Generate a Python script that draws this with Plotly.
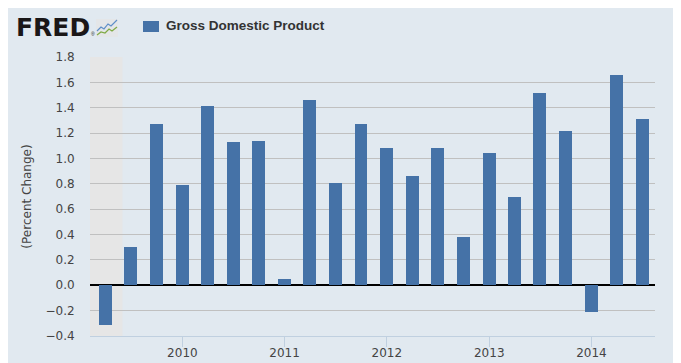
import plotly.graph_objects as go

# ---- data ----
quarters = ["2009-04-01", "2009-07-01", "2009-10-01",
            "2010-01-01", "2010-04-01", "2010-07-01", "2010-10-01",
            "2011-01-01", "2011-04-01", "2011-07-01", "2011-10-01",
            "2012-01-01", "2012-04-01", "2012-07-01", "2012-10-01",
            "2013-01-01", "2013-04-01", "2013-07-01", "2013-10-01",
            "2014-01-01", "2014-04-01", "2014-07-01"]
gdp_pct_change = [-0.31, 0.30, 1.27,
                  0.79, 1.41, 1.13, 1.14,
                  0.05, 1.46, 0.81, 1.27,
                  1.08, 0.86, 1.08, 0.38,
                  1.04, 0.70, 1.52, 1.22,
                  -0.21, 1.66, 1.31]
year_ticks = ["2010-01-01", "2011-01-01", "2012-01-01", "2013-01-01", "2014-01-01"]
year_labels = ["2010", "2011", "2012", "2013", "2014"]
recession = ["2009-02-05", "2009-06-01"]
series_name = "Gross Domestic Product"

# ---- layout geometry (reference pixels; page body adds an 8px margin) ----
OFF = 8
W, H = 681 - OFF, 363 - OFF
L, R, T, B = 90 - OFF, 655 - OFF, 57 - OFF, 336 - OFF


def px(x):
    return (x - OFF - L) / (R - L)


def py(y):
    return (B - (y - OFF)) / (B - T)


BAR = "#4572A7"
BG = "#E1E9F0"

fig = go.Figure()
fig.add_trace(go.Bar(
    x=quarters, y=gdp_pct_change, name=series_name,
    marker=dict(color=BAR, line=dict(width=0)),
    width=46 * 86400000, showlegend=False,
))

shapes = [
    # outer blue-gray panel
    dict(type="rect", xref="paper", yref="paper", x0=px(OFF), x1=px(675), y0=py(OFF), y1=py(363),
         fillcolor=BG, line=dict(width=0), layer="below"),
    # recession shading
    dict(type="rect", xref="x", yref="paper", x0=recession[0], x1=recession[1], y0=0, y1=1,
         fillcolor="#E6E6E6", line=dict(width=0), layer="below"),
    # legend swatch
    dict(type="rect", xref="paper", yref="paper", x0=px(143), x1=px(159), y0=py(21), y1=py(32),
         fillcolor=BAR, line=dict(width=0)),
    # FRED icon box
    dict(type="rect", xref="paper", yref="paper", x0=px(96), x1=px(118), y0=py(19), y1=py(37),
         fillcolor="#E4E6E8", line=dict(width=0)),
]


def path(pts):
    return "M" + " L".join(f"{px(a):.5f},{py(b):.5f}" for a, b in pts)


shapes.append(dict(type="path", xref="paper", yref="paper",
                   path=path([(97, 31), (101, 27), (104, 29), (108, 24), (111, 26), (117, 20)]),
                   line=dict(color="#5F8FC8", width=1.2)))
shapes.append(dict(type="path", xref="paper", yref="paper",
                   path=path([(97, 35), (101, 32), (105, 33), (109, 29), (112, 31), (117, 27)]),
                   line=dict(color="#7FAA45", width=1.2)))

annotations = [
    dict(text="<b>FRED</b>", xref="paper", yref="paper", x=px(14), y=py(27),
         xanchor="left", yanchor="middle", showarrow=False,
         font=dict(family="DejaVu Sans", size=25, color="#1A1718")),
    dict(text="®", xref="paper", yref="paper", x=px(89), y=py(34),
         xanchor="left", yanchor="middle", showarrow=False,
         font=dict(family="Liberation Sans", size=5, color="#231F20")),
    dict(text="<b>" + series_name + "</b>", xref="paper", yref="paper", x=px(164), y=py(26),
         xanchor="left", yanchor="middle", showarrow=False,
         font=dict(family="Liberation Sans", size=13.5, color="#333333")),
]

fig.update_layout(
    width=W, height=H,
    margin=dict(l=L, r=W - R, t=T, b=H - B, pad=0),
    paper_bgcolor="white", plot_bgcolor="white",
    shapes=shapes, annotations=annotations,
    bargap=0,
    xaxis=dict(
        type="date", range=["2009-02-05", "2014-08-16"],
        tickvals=year_ticks, ticktext=year_labels,
        showgrid=False, showline=True, linecolor="#C0D0E0", linewidth=1,
        ticks="outside", ticklen=10, tickcolor="#C0D0E0", tickwidth=1,
        ticklabelstandoff=-4,
        tickfont=dict(family="DejaVu Sans", size=12, color="#444444"),
        zeroline=False, fixedrange=True, automargin=False,
    ),
    yaxis=dict(
        range=[-0.4, 1.8], dtick=0.2, tick0=0, tickformat=".1f",
        showgrid=True, gridcolor="#C0C0C0", gridwidth=1,
        zeroline=True, zerolinecolor="#000000", zerolinewidth=2,
        showline=False,
        ticks="outside", ticklen=12, tickcolor="rgba(0,0,0,0)",
        tickfont=dict(family="DejaVu Sans", size=12, color="#444444"),
        title=dict(text="(Percent Change)", standoff=11,
                   font=dict(family="DejaVu Sans", size=12, color="#444444")),
        fixedrange=True, automargin=False,
    ),
)

fig.write_html("out.html")
